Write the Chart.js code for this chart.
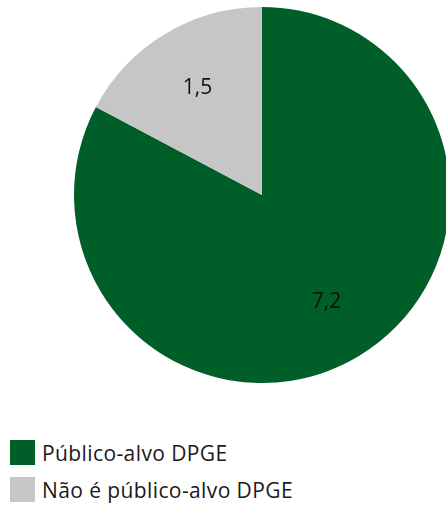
<!DOCTYPE html>
<html>
<head>
<meta charset="utf-8">
<script src="https://cdn.jsdelivr.net/npm/chart.js@4/dist/chart.umd.min.js"></script>
<style>
  html, body { margin: 0; padding: 0; background: #fff; overflow: hidden; width: 446px; height: 507px; }
  #wrap { position: absolute; left: 0; top: 7px; width: 524px; height: 376px; }
  #legend { position: absolute; left: 10px; top: 440px; font-family: "Open Sans", sans-serif; font-size: 21px; letter-spacing: 0.4px; color: #1a1a1a; }
  .item { display: flex; align-items: center; height: 25px; margin-bottom: 12px; }
  .box { width: 25px; height: 25px; margin-right: 7px; }
</style>
</head>
<body>
<div id="wrap"><canvas id="myChart"></canvas></div>
<div id="legend"></div>
<script>
var labels = ["Público-alvo DPGE", "Não é público-alvo DPGE"];
var values = [7.2, 1.5];
var valueText = ["7,2", "1,5"];
var colors = ["#005e28", "#c6c6c6"];

// draws value labels at 2/3 of the radius
var sliceLabels = {
    id: 'sliceLabels',
    afterDatasetsDraw: function(chart) {
        var ctx = chart.ctx;
        var meta = chart.getDatasetMeta(0);
        ctx.save();
        ctx.font = '21px "Open Sans", sans-serif';
        ctx.fillStyle = '#111';
        ctx.textAlign = 'center';
        ctx.textBaseline = 'middle';
        meta.data.forEach(function(arc, i) {
            var p = arc.getProps(['x', 'y', 'startAngle', 'endAngle', 'outerRadius'], true);
            var mid = (p.startAngle + p.endAngle) / 2;
            var r = p.outerRadius * 0.665;
            ctx.fillText(valueText[i], p.x + Math.cos(mid) * r, p.y + Math.sin(mid) * r);
        });
        ctx.restore();
    }
};

var ctx = document.getElementById('myChart').getContext('2d');
var chart = new Chart(ctx, {
    type: 'pie',
    data: {
        labels: labels,
        datasets: [{
            data: values,
            backgroundColor: colors,
            borderWidth: 0
        }]
    },
    options: {
        responsive: true,
        maintainAspectRatio: false,
        animation: false,
        plugins: {
            legend: { display: false },
            tooltip: { enabled: false }
        }
    },
    plugins: [sliceLabels]
});

var legend = document.getElementById('legend');
labels.forEach(function(l, i) {
    var row = document.createElement('div');
    row.className = 'item';
    var box = document.createElement('span');
    box.className = 'box';
    box.style.background = colors[i];
    var txt = document.createElement('span');
    txt.textContent = l;
    row.appendChild(box);
    row.appendChild(txt);
    legend.appendChild(row);
});
</script>
</body>
</html>
